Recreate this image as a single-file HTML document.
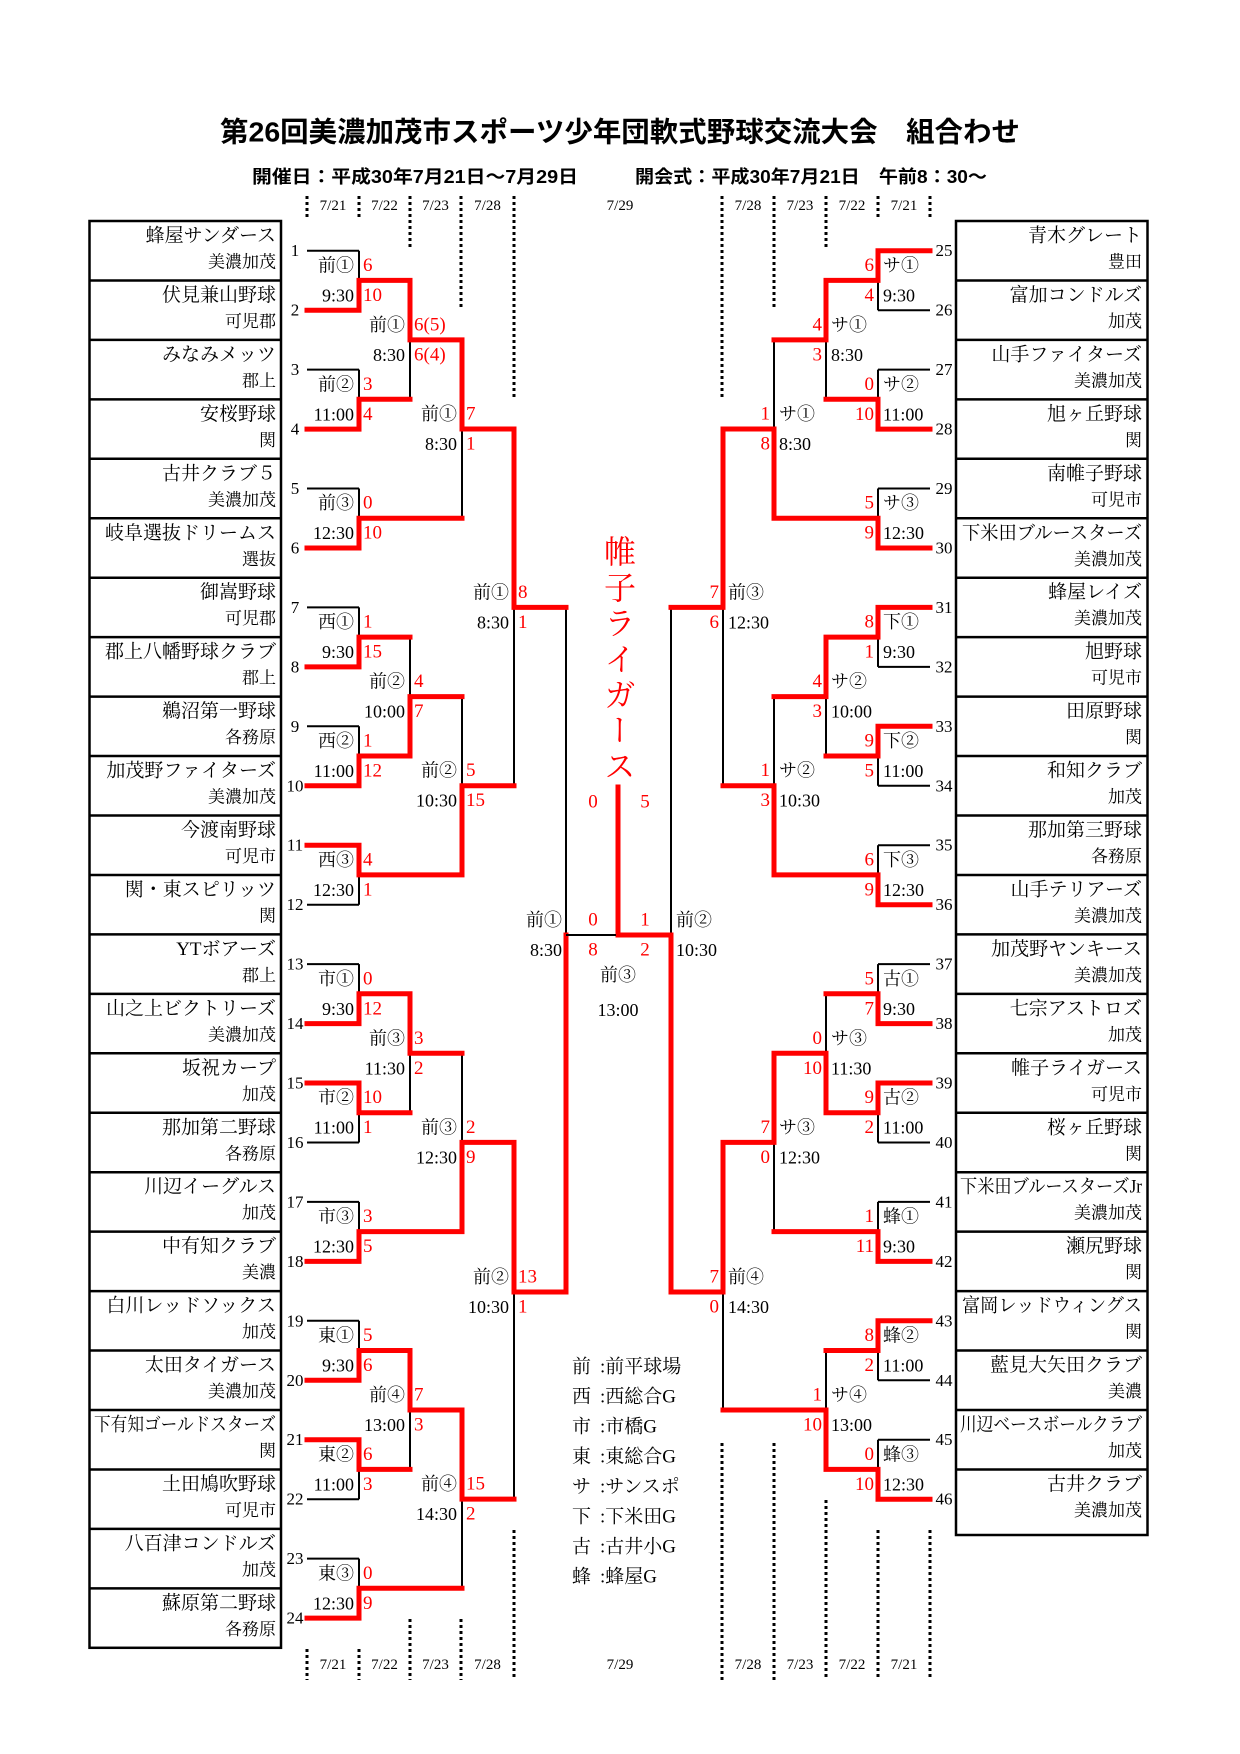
<!DOCTYPE html>
<html><head><meta charset="utf-8"><style>
body{margin:0;background:#fff;}
#w{position:relative;width:1240px;height:1754px;overflow:hidden;}
svg{position:absolute;left:0;top:0;}
text{font-family:"Liberation Serif","Noto Serif CJK SC",serif;dominant-baseline:central;}
.le{font-size:18px;text-anchor:end;fill:#000;}
.ll{font-size:18px;text-anchor:start;fill:#000;}
.se{font-size:19px;text-anchor:end;fill:#f00;}
.ss{font-size:19px;text-anchor:start;fill:#f00;}
.sm{font-size:19px;text-anchor:middle;fill:#f00;}
.cm{font-size:18px;text-anchor:middle;fill:#000;}
.nm{font-size:19px;text-anchor:end;}
.rg{font-size:17px;text-anchor:end;}
.no{font-size:17px;text-anchor:middle;}
.dt{font-size:15px;text-anchor:middle;}
.lg{font-size:19px;}
.hd{font-family:"Liberation Sans","Noto Sans CJK JP",sans-serif;font-weight:bold;}
#ch{position:absolute;left:602px;top:535px;writing-mode:vertical-rl;font-family:"Liberation Serif","Noto Serif CJK SC",serif;font-size:32px;line-height:32px;letter-spacing:3.7px;color:#f00;}
</style></head><body><div id="w">
<svg width="1240" height="1754" viewBox="0 0 1240 1754" xmlns="http://www.w3.org/2000/svg">
<text class="hd" x="620" y="132" text-anchor="middle" font-size="28" textLength="800" lengthAdjust="spacingAndGlyphs">第26回美濃加茂市スポーツ少年団軟式野球交流大会　組合わせ</text>
<text class="hd" x="252" y="177" font-size="18" textLength="326" lengthAdjust="spacingAndGlyphs">開催日：平成30年7月21日～7月29日</text>
<text class="hd" x="635" y="177" font-size="18" textLength="352" lengthAdjust="spacingAndGlyphs">開会式：平成30年7月21日　午前8：30～</text>

<g stroke="#000" stroke-width="3" stroke-dasharray="3 3">
<path d="M307 196V220M359 196V220M410 196V250M461 196V310M514 196V400M722 196V400M774 196V310M826 196V250M878 196V220M930 196V220"/>
<path d="M307 1649V1680M359 1649V1680M410 1619V1680M461 1619V1680M514 1530V1680M722 1443V1680M774 1443V1680M826 1500V1680M878 1530V1680M930 1530V1680"/>
</g>
<g class="dt">
<text class="dt" x="333" y="206">7/21</text><text class="dt" x="384.5" y="206">7/22</text><text class="dt" x="435.5" y="206">7/23</text><text class="dt" x="487.5" y="206">7/28</text><text class="dt" x="620" y="206">7/29</text><text class="dt" x="748" y="206">7/28</text><text class="dt" x="800" y="206">7/23</text><text class="dt" x="852" y="206">7/22</text><text class="dt" x="904" y="206">7/21</text>
<text class="dt" x="333" y="1665">7/21</text><text class="dt" x="384.5" y="1665">7/22</text><text class="dt" x="435.5" y="1665">7/23</text><text class="dt" x="487.5" y="1665">7/28</text><text class="dt" x="620" y="1665">7/29</text><text class="dt" x="748" y="1665">7/28</text><text class="dt" x="800" y="1665">7/23</text><text class="dt" x="852" y="1665">7/22</text><text class="dt" x="904" y="1665">7/21</text>
</g>

<g fill="none" stroke="#000" stroke-width="2.5">
<rect x="89.5" y="221" width="191.5" height="1426.8"/>
<path d="M89 280.45H281M89 339.9H281M89 399.35H281M89 458.8H281M89 518.25H281M89 577.7H281M89 637.15H281M89 696.6H281M89 756.05H281M89 815.5H281M89 874.95H281M89 934.4H281M89 993.85H281M89 1053.3H281M89 1112.75H281M89 1172.2H281M89 1231.65H281M89 1291.1H281M89 1350.55H281M89 1410H281M89 1469.45H281M89 1528.9H281M89 1588.35H281"/>
<rect x="956" y="221" width="191.5" height="1314"/>
<path d="M956 280.45H1148M956 339.9H1148M956 399.35H1148M956 458.8H1148M956 518.25H1148M956 577.7H1148M956 637.15H1148M956 696.6H1148M956 756.05H1148M956 815.5H1148M956 874.95H1148M956 934.4H1148M956 993.85H1148M956 1053.3H1148M956 1112.75H1148M956 1172.2H1148M956 1231.65H1148M956 1291.1H1148M956 1350.55H1148M956 1410H1148M956 1469.45H1148"/>
</g>

<g>
<text class="nm" x="276" y="236">蜂屋サンダース</text><text class="rg" x="276" y="262">美濃加茂</text>
<text class="nm" x="276" y="295.5">伏見兼山野球</text><text class="rg" x="276" y="321.5">可児郡</text>
<text class="nm" x="276" y="354.9">みなみメッツ</text><text class="rg" x="276" y="380.9">郡上</text>
<text class="nm" x="276" y="414.4">安桜野球</text><text class="rg" x="276" y="440.4">関</text>
<text class="nm" x="276" y="473.8">古井クラブ５</text><text class="rg" x="276" y="499.8">美濃加茂</text>
<text class="nm" x="276" y="533.3">岐阜選抜ドリームス</text><text class="rg" x="276" y="559.3">選抜</text>
<text class="nm" x="276" y="592.7">御嵩野球</text><text class="rg" x="276" y="618.7">可児郡</text>
<text class="nm" x="276" y="652.2">郡上八幡野球クラブ</text><text class="rg" x="276" y="678.2">郡上</text>
<text class="nm" x="276" y="711.6">鵜沼第一野球</text><text class="rg" x="276" y="737.6">各務原</text>
<text class="nm" x="276" y="771.1">加茂野ファイターズ</text><text class="rg" x="276" y="797.1">美濃加茂</text>
<text class="nm" x="276" y="830.5">今渡南野球</text><text class="rg" x="276" y="856.5">可児市</text>
<text class="nm" x="276" y="890">関・東スピリッツ</text><text class="rg" x="276" y="916">関</text>
<text class="nm" x="276" y="949.4">YTボアーズ</text><text class="rg" x="276" y="975.4">郡上</text>
<text class="nm" x="276" y="1008.9">山之上ビクトリーズ</text><text class="rg" x="276" y="1034.9">美濃加茂</text>
<text class="nm" x="276" y="1068.3">坂祝カープ</text><text class="rg" x="276" y="1094.3">加茂</text>
<text class="nm" x="276" y="1127.8">那加第二野球</text><text class="rg" x="276" y="1153.8">各務原</text>
<text class="nm" x="276" y="1187.2">川辺イーグルス</text><text class="rg" x="276" y="1213.2">加茂</text>
<text class="nm" x="276" y="1246.7">中有知クラブ</text><text class="rg" x="276" y="1272.7">美濃</text>
<text class="nm" x="276" y="1306.1">白川レッドソックス</text><text class="rg" x="276" y="1332.1">加茂</text>
<text class="nm" x="276" y="1365.6">太田タイガース</text><text class="rg" x="276" y="1391.6">美濃加茂</text>
<text class="nm" x="276" y="1425" font-size="16" textLength="182" lengthAdjust="spacingAndGlyphs">下有知ゴールドスターズ</text><text class="rg" x="276" y="1451">関</text>
<text class="nm" x="276" y="1484.5">土田鳩吹野球</text><text class="rg" x="276" y="1510.5">可児市</text>
<text class="nm" x="276" y="1543.9">八百津コンドルズ</text><text class="rg" x="276" y="1569.9">加茂</text>
<text class="nm" x="276" y="1603.4">蘇原第二野球</text><text class="rg" x="276" y="1629.4">各務原</text>
</g>
<g>
<text class="nm" x="1142" y="236">青木グレート</text><text class="rg" x="1142" y="262">豊田</text>
<text class="nm" x="1142" y="295.5">富加コンドルズ</text><text class="rg" x="1142" y="321.5">加茂</text>
<text class="nm" x="1142" y="354.9">山手ファイターズ</text><text class="rg" x="1142" y="380.9">美濃加茂</text>
<text class="nm" x="1142" y="414.4">旭ヶ丘野球</text><text class="rg" x="1142" y="440.4">関</text>
<text class="nm" x="1142" y="473.8">南帷子野球</text><text class="rg" x="1142" y="499.8">可児市</text>
<text class="nm" x="1142" y="533.3" textLength="180" lengthAdjust="spacingAndGlyphs">下米田ブルースターズ</text><text class="rg" x="1142" y="559.3">美濃加茂</text>
<text class="nm" x="1142" y="592.7">蜂屋レイズ</text><text class="rg" x="1142" y="618.7">美濃加茂</text>
<text class="nm" x="1142" y="652.2">旭野球</text><text class="rg" x="1142" y="678.2">可児市</text>
<text class="nm" x="1142" y="711.6">田原野球</text><text class="rg" x="1142" y="737.6">関</text>
<text class="nm" x="1142" y="771.1">和知クラブ</text><text class="rg" x="1142" y="797.1">加茂</text>
<text class="nm" x="1142" y="830.5">那加第三野球</text><text class="rg" x="1142" y="856.5">各務原</text>
<text class="nm" x="1142" y="890">山手テリアーズ</text><text class="rg" x="1142" y="916">美濃加茂</text>
<text class="nm" x="1142" y="949.4">加茂野ヤンキース</text><text class="rg" x="1142" y="975.4">美濃加茂</text>
<text class="nm" x="1142" y="1008.9">七宗アストロズ</text><text class="rg" x="1142" y="1034.9">加茂</text>
<text class="nm" x="1142" y="1068.3">帷子ライガース</text><text class="rg" x="1142" y="1094.3">可児市</text>
<text class="nm" x="1142" y="1127.8">桜ヶ丘野球</text><text class="rg" x="1142" y="1153.8">関</text>
<text class="nm" x="1142" y="1187.2" font-size="16" textLength="182" lengthAdjust="spacingAndGlyphs">下米田ブルースターズJr</text><text class="rg" x="1142" y="1213.2">美濃加茂</text>
<text class="nm" x="1142" y="1246.7">瀬尻野球</text><text class="rg" x="1142" y="1272.7">関</text>
<text class="nm" x="1142" y="1306.1" textLength="180" lengthAdjust="spacingAndGlyphs">富岡レッドウィングス</text><text class="rg" x="1142" y="1332.1">関</text>
<text class="nm" x="1142" y="1365.6">藍見大矢田クラブ</text><text class="rg" x="1142" y="1391.6">美濃</text>
<text class="nm" x="1142" y="1425" font-size="16" textLength="182" lengthAdjust="spacingAndGlyphs">川辺ベースボールクラブ</text><text class="rg" x="1142" y="1451">加茂</text>
<text class="nm" x="1142" y="1484.5">古井クラブ</text><text class="rg" x="1142" y="1510.5">美濃加茂</text>
</g>

<g class="no">
<text class="no" x="295" y="250.7">1</text><text class="no" x="295" y="310.2">2</text><text class="no" x="295" y="369.6">3</text><text class="no" x="295" y="429.1">4</text><text class="no" x="295" y="488.5">5</text><text class="no" x="295" y="548">6</text><text class="no" x="295" y="607.4">7</text><text class="no" x="295" y="666.9">8</text><text class="no" x="295" y="726.3">9</text><text class="no" x="295" y="785.8">10</text><text class="no" x="295" y="845.2">11</text><text class="no" x="295" y="904.7">12</text><text class="no" x="295" y="964.1">13</text><text class="no" x="295" y="1023.6">14</text><text class="no" x="295" y="1083">15</text><text class="no" x="295" y="1142.5">16</text><text class="no" x="295" y="1201.9">17</text><text class="no" x="295" y="1261.4">18</text><text class="no" x="295" y="1320.8">19</text><text class="no" x="295" y="1380.3">20</text><text class="no" x="295" y="1439.7">21</text><text class="no" x="295" y="1499.2">22</text><text class="no" x="295" y="1558.6">23</text><text class="no" x="295" y="1618.1">24</text>
<text class="no" x="944" y="250.7">25</text><text class="no" x="944" y="310.2">26</text><text class="no" x="944" y="369.6">27</text><text class="no" x="944" y="429.1">28</text><text class="no" x="944" y="488.5">29</text><text class="no" x="944" y="548">30</text><text class="no" x="944" y="607.4">31</text><text class="no" x="944" y="666.9">32</text><text class="no" x="944" y="726.3">33</text><text class="no" x="944" y="785.8">34</text><text class="no" x="944" y="845.2">35</text><text class="no" x="944" y="904.7">36</text><text class="no" x="944" y="964.1">37</text><text class="no" x="944" y="1023.6">38</text><text class="no" x="944" y="1083">39</text><text class="no" x="944" y="1142.5">40</text><text class="no" x="944" y="1201.9">41</text><text class="no" x="944" y="1261.4">42</text><text class="no" x="944" y="1320.8">43</text><text class="no" x="944" y="1380.3">44</text><text class="no" x="944" y="1439.7">45</text><text class="no" x="944" y="1499.2">46</text>
</g>

<g fill="none" stroke="#000" stroke-width="2">
<path d="M307 250.7H359M307 310.2H359M307 369.6H359M307 429.1H359M307 488.5H359M307 548H359M307 607.4H359M307 666.9H359M307 726.3H359M307 785.8H359M307 845.2H359M307 904.7H359M307 964.1H359M307 1023.6H359M307 1083H359M307 1142.5H359M307 1201.9H359M307 1261.4H359M307 1320.8H359M307 1380.3H359M307 1439.7H359M307 1499.2H359M307 1558.6H359M307 1618.1H359"/>
<path d="M359 250.7V310.2M359 369.6V429.1M359 488.5V548M359 607.4V666.9M359 726.3V785.8M359 845.2V904.7M359 964.1V1023.6M359 1083V1142.5M359 1201.9V1261.4M359 1320.8V1380.3M359 1439.7V1499.2M359 1558.6V1618.1"/>
<path d="M410 280.4V399.3M410 637.1V756M410 993.8V1112.7M410 1350.5V1469.4M462 339.9V518.2M462 696.6V874.9M462 1053.3V1231.6M462 1410V1588.3M514 429V785.7M514 1142.4V1499.1M566 607.4V1292M566 935H618"/>
<path d="M878 250.7H930M878 310.2H930M878 369.6H930M878 429.1H930M878 488.5H930M878 548H930M878 607.4H930M878 666.9H930M878 726.3H930M878 785.8H930M878 845.2H930M878 904.7H930M878 964.1H930M878 1023.6H930M878 1083H930M878 1142.5H930M878 1201.9H930M878 1261.4H930M878 1320.8H930M878 1380.3H930M878 1439.7H930M878 1499.2H930"/>
<path d="M878 250.7V310.2M878 369.6V429.1M878 488.5V548M878 607.4V666.9M878 726.3V785.8M878 845.2V904.7M878 964.1V1023.6M878 1083V1142.5M878 1201.9V1261.4M878 1320.8V1380.3M878 1439.7V1499.2"/>
<path d="M826 280.4V399.3M826 637.1V756M826 993.8V1112.7M826 1350.5V1469.4M774 339.9V518.2M774 696.6V874.9M774 1053.3V1231.6M723 429V785.7M723 1142.4V1410M671 607.4V1292"/>
</g>

<g fill="none" stroke="#f00" stroke-width="5" stroke-linejoin="miter" stroke-linecap="square">
<path d="M307 310.2H359V280.4H410V339.9H462V429H514V607.4H566"/>
<path d="M307 429.1H359V399.3H410"/>
<path d="M307 548H359V518.2H462"/>
<path d="M307 666.9H359V637.1H410"/>
<path d="M307 785.8H359V756H410V696.6H462"/>
<path d="M307 845.2H359V874.9H462V785.7H514"/>
<path d="M307 1023.6H359V993.8H410V1053.3H462"/>
<path d="M307 1083H359V1112.7H410"/>
<path d="M307 1261.4H359V1231.6H462V1142.4H514V1292H566V935"/>
<path d="M307 1380.3H359V1350.5H410V1410H462V1499.1H514"/>
<path d="M307 1439.7H359V1469.4H410"/>
<path d="M307 1618.1H359V1588.3H462"/>
<path d="M930 250.7H878V280.4H826V339.9H774"/>
<path d="M930 429.1H878V399.3H826"/>
<path d="M930 548H878V518.2H774V429H723V607.4H671"/>
<path d="M930 607.4H878V637.1H826V696.6H774"/>
<path d="M930 726.3H878V756H826"/>
<path d="M930 904.7H878V874.9H774V785.7H723"/>
<path d="M930 1023.6H878V993.8H826"/>
<path d="M930 1083H878V1112.7H826V1053.3H774V1142.4H723V1292H671V935H618V787"/>
<path d="M930 1261.4H878V1231.6H774"/>
<path d="M930 1320.8H878V1350.5H826"/>
<path d="M930 1499.2H878V1469.4H826V1410H723"/>
</g>
<path d="M566 935H616" stroke="#000" stroke-width="2" fill="none"/>

<g>
<text class="le" x="354" y="265.4">前①</text><text class="le" x="354" y="295.4">9:30</text><text class="ss" x="363" y="265.4">6</text><text class="ss" x="363" y="295.4">10</text>
<text class="le" x="354" y="384.3">前②</text><text class="le" x="354" y="414.3">11:00</text><text class="ss" x="363" y="384.3">3</text><text class="ss" x="363" y="414.3">4</text>
<text class="le" x="354" y="503.2">前③</text><text class="le" x="354" y="533.2">12:30</text><text class="ss" x="363" y="503.2">0</text><text class="ss" x="363" y="533.2">10</text>
<text class="le" x="405" y="324.9">前①</text><text class="le" x="405" y="354.9">8:30</text><text class="ss" x="414" y="324.9">6(5)</text><text class="ss" x="414" y="354.9">6(4)</text>
<text class="le" x="457" y="414">前①</text><text class="le" x="457" y="444">8:30</text><text class="ss" x="466" y="414">7</text><text class="ss" x="466" y="444">1</text>
<text class="le" x="354" y="622.1">西①</text><text class="le" x="354" y="652.1">9:30</text><text class="ss" x="363" y="622.1">1</text><text class="ss" x="363" y="652.1">15</text>
<text class="le" x="354" y="741">西②</text><text class="le" x="354" y="771">11:00</text><text class="ss" x="363" y="741">1</text><text class="ss" x="363" y="771">12</text>
<text class="le" x="354" y="859.9">西③</text><text class="le" x="354" y="889.9">12:30</text><text class="ss" x="363" y="859.9">4</text><text class="ss" x="363" y="889.9">1</text>
<text class="le" x="405" y="681.6">前②</text><text class="le" x="405" y="711.6">10:00</text><text class="ss" x="414" y="681.6">4</text><text class="ss" x="414" y="711.6">7</text>
<text class="le" x="457" y="770.7">前②</text><text class="le" x="457" y="800.7">10:30</text><text class="ss" x="466" y="770.7">5</text><text class="ss" x="466" y="800.7">15</text>
<text class="le" x="509" y="592.4">前①</text><text class="le" x="509" y="622.4">8:30</text><text class="ss" x="518" y="592.4">8</text><text class="ss" x="518" y="622.4">1</text>
<text class="le" x="354" y="978.8">市①</text><text class="le" x="354" y="1008.8">9:30</text><text class="ss" x="363" y="978.8">0</text><text class="ss" x="363" y="1008.8">12</text>
<text class="le" x="354" y="1097.7">市②</text><text class="le" x="354" y="1127.7">11:00</text><text class="ss" x="363" y="1097.7">10</text><text class="ss" x="363" y="1127.7">1</text>
<text class="le" x="354" y="1216.6">市③</text><text class="le" x="354" y="1246.6">12:30</text><text class="ss" x="363" y="1216.6">3</text><text class="ss" x="363" y="1246.6">5</text>
<text class="le" x="405" y="1038.3">前③</text><text class="le" x="405" y="1068.3">11:30</text><text class="ss" x="414" y="1038.3">3</text><text class="ss" x="414" y="1068.3">2</text>
<text class="le" x="457" y="1127.4">前③</text><text class="le" x="457" y="1157.4">12:30</text><text class="ss" x="466" y="1127.4">2</text><text class="ss" x="466" y="1157.4">9</text>
<text class="le" x="354" y="1335.5">東①</text><text class="le" x="354" y="1365.5">9:30</text><text class="ss" x="363" y="1335.5">5</text><text class="ss" x="363" y="1365.5">6</text>
<text class="le" x="354" y="1454.4">東②</text><text class="le" x="354" y="1484.4">11:00</text><text class="ss" x="363" y="1454.4">6</text><text class="ss" x="363" y="1484.4">3</text>
<text class="le" x="354" y="1573.3">東③</text><text class="le" x="354" y="1603.3">12:30</text><text class="ss" x="363" y="1573.3">0</text><text class="ss" x="363" y="1603.3">9</text>
<text class="le" x="405" y="1395">前④</text><text class="le" x="405" y="1425">13:00</text><text class="ss" x="414" y="1395">7</text><text class="ss" x="414" y="1425">3</text>
<text class="le" x="457" y="1484.1">前④</text><text class="le" x="457" y="1514.1">14:30</text><text class="ss" x="466" y="1484.1">15</text><text class="ss" x="466" y="1514.1">2</text>
<text class="le" x="509" y="1277">前②</text><text class="le" x="509" y="1307">10:30</text><text class="ss" x="518" y="1277">13</text><text class="ss" x="518" y="1307">1</text>
<text class="le" x="562" y="920">前①</text><text class="le" x="562" y="950">8:30</text><text class="sm" x="593" y="920">0</text><text class="sm" x="593" y="950">8</text>
</g>
<g>
<text class="ll" x="883" y="265.4">サ①</text><text class="ll" x="883" y="295.4">9:30</text><text class="se" x="874" y="265.4">6</text><text class="se" x="874" y="295.4">4</text>
<text class="ll" x="883" y="384.3">サ②</text><text class="ll" x="883" y="414.3">11:00</text><text class="se" x="874" y="384.3">0</text><text class="se" x="874" y="414.3">10</text>
<text class="ll" x="883" y="503.2">サ③</text><text class="ll" x="883" y="533.2">12:30</text><text class="se" x="874" y="503.2">5</text><text class="se" x="874" y="533.2">9</text>
<text class="ll" x="831" y="324.9">サ①</text><text class="ll" x="831" y="354.9">8:30</text><text class="se" x="822" y="324.9">4</text><text class="se" x="822" y="354.9">3</text>
<text class="ll" x="779" y="414">サ①</text><text class="ll" x="779" y="444">8:30</text><text class="se" x="770" y="414">1</text><text class="se" x="770" y="444">8</text>
<text class="ll" x="728" y="592.4">前③</text><text class="ll" x="728" y="622.4">12:30</text><text class="se" x="719" y="592.4">7</text><text class="se" x="719" y="622.4">6</text>
<text class="ll" x="883" y="622.1">下①</text><text class="ll" x="883" y="652.1">9:30</text><text class="se" x="874" y="622.1">8</text><text class="se" x="874" y="652.1">1</text>
<text class="ll" x="883" y="741">下②</text><text class="ll" x="883" y="771">11:00</text><text class="se" x="874" y="741">9</text><text class="se" x="874" y="771">5</text>
<text class="ll" x="883" y="859.9">下③</text><text class="ll" x="883" y="889.9">12:30</text><text class="se" x="874" y="859.9">6</text><text class="se" x="874" y="889.9">9</text>
<text class="ll" x="831" y="681.6">サ②</text><text class="ll" x="831" y="711.6">10:00</text><text class="se" x="822" y="681.6">4</text><text class="se" x="822" y="711.6">3</text>
<text class="ll" x="779" y="770.7">サ②</text><text class="ll" x="779" y="800.7">10:30</text><text class="se" x="770" y="770.7">1</text><text class="se" x="770" y="800.7">3</text>
<text class="ll" x="883" y="978.8">古①</text><text class="ll" x="883" y="1008.8">9:30</text><text class="se" x="874" y="978.8">5</text><text class="se" x="874" y="1008.8">7</text>
<text class="ll" x="883" y="1097.7">古②</text><text class="ll" x="883" y="1127.7">11:00</text><text class="se" x="874" y="1097.7">9</text><text class="se" x="874" y="1127.7">2</text>
<text class="ll" x="883" y="1216.6">蜂①</text><text class="ll" x="883" y="1246.6">9:30</text><text class="se" x="874" y="1216.6">1</text><text class="se" x="874" y="1246.6">11</text>
<text class="ll" x="831" y="1038.3">サ③</text><text class="ll" x="831" y="1068.3">11:30</text><text class="se" x="822" y="1038.3">0</text><text class="se" x="822" y="1068.3">10</text>
<text class="ll" x="779" y="1127.4">サ③</text><text class="ll" x="779" y="1157.4">12:30</text><text class="se" x="770" y="1127.4">7</text><text class="se" x="770" y="1157.4">0</text>
<text class="ll" x="883" y="1335.5">蜂②</text><text class="ll" x="883" y="1365.5">11:00</text><text class="se" x="874" y="1335.5">8</text><text class="se" x="874" y="1365.5">2</text>
<text class="ll" x="883" y="1454.4">蜂③</text><text class="ll" x="883" y="1484.4">12:30</text><text class="se" x="874" y="1454.4">0</text><text class="se" x="874" y="1484.4">10</text>
<text class="ll" x="831" y="1395">サ④</text><text class="ll" x="831" y="1425">13:00</text><text class="se" x="822" y="1395">1</text><text class="se" x="822" y="1425">10</text>
<text class="ll" x="728" y="1277">前④</text><text class="ll" x="728" y="1307">14:30</text><text class="se" x="719" y="1277">7</text><text class="se" x="719" y="1307">0</text>
<text class="ll" x="676" y="920">前②</text><text class="ll" x="676" y="950">10:30</text><text class="sm" x="645" y="920">1</text><text class="sm" x="645" y="950">2</text>
</g>
<text class="sm" x="593" y="802">0</text><text class="sm" x="645" y="802">5</text>
<text class="cm" x="618" y="975">前③</text><text class="cm" x="618" y="1010">13:00</text>

<g class="lg">
<text class="lg" x="572" y="1367">前</text><text class="lg" x="600" y="1367">:前平球場</text>
<text class="lg" x="572" y="1397">西</text><text class="lg" x="600" y="1397">:西総合G</text>
<text class="lg" x="572" y="1427">市</text><text class="lg" x="600" y="1427">:市橋G</text>
<text class="lg" x="572" y="1457">東</text><text class="lg" x="600" y="1457">:東総合G</text>
<text class="lg" x="572" y="1487">サ</text><text class="lg" x="600" y="1487">:サンスポ</text>
<text class="lg" x="572" y="1517">下</text><text class="lg" x="600" y="1517">:下米田G</text>
<text class="lg" x="572" y="1547">古</text><text class="lg" x="600" y="1547">:古井小G</text>
<text class="lg" x="572" y="1577">蜂</text><text class="lg" x="600" y="1577">:蜂屋G</text>
</g>
</svg>
<div id="ch">帷子ライガース</div>
</div></body></html>
